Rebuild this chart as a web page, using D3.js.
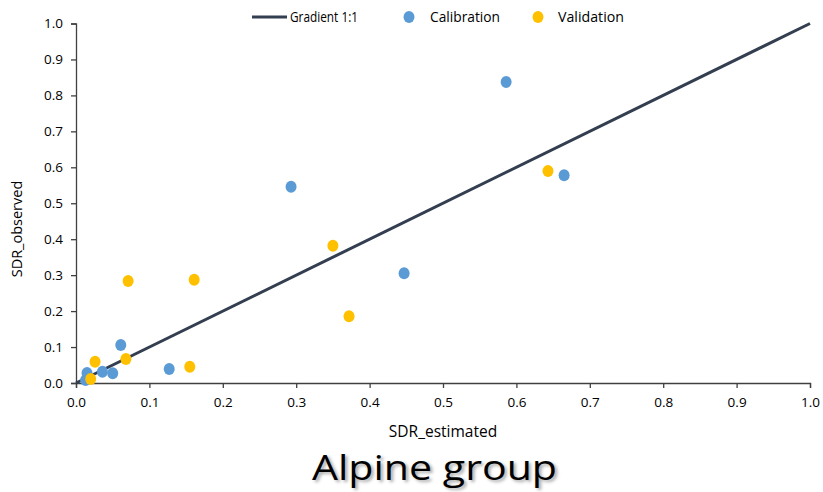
<!DOCTYPE html>
<html><head><meta charset="utf-8">
<script src="https://cdn.jsdelivr.net/npm/d3@7"></script>
<style>
body{margin:0;background:#fff;}
svg{display:block;}
text{font-family:"Open Sans",sans-serif;}
</style></head>
<body>
<script>
const xTicks = [0,0.1,0.2,0.3,0.4,0.5,0.6,0.7,0.8,0.9,1.0];
const yTicks = [0,0.1,0.2,0.3,0.4,0.5,0.6,0.7,0.8,0.9,1.0];
const calibrationX = [0.586,0.665,0.293,0.447,0.127,0.061,0.036,0.050,0.015,0.013];
const calibrationY = [0.837,0.578,0.546,0.305,0.039,0.106,0.031,0.027,0.028,0.008];
const validationX = [0.643,0.350,0.372,0.071,0.161,0.026,0.068,0.020,0.155];
const validationY = [0.590,0.382,0.186,0.284,0.287,0.059,0.067,0.011,0.045];
const gradientLine = [[0,0],[1,1]];
const seriesNames = ["Gradient 1:1","Calibration","Validation"];

const W=823,H=492;
const svg=d3.select("body").append("svg").attr("width",W).attr("height",H);
const x=d3.scaleLinear().domain([0,1]).range([76,810]);
const y=d3.scaleLinear().domain([0,1]).range([383,23.5]);

const axisColor="#404040";
const gx=svg.append("g").attr("transform",`translate(0,${y(0)})`)
  .call(d3.axisBottom(x).tickValues(xTicks).tickFormat(d3.format(".1f")).tickSize(5).tickPadding(9));
const gy=svg.append("g").attr("transform",`translate(${x(0)},0)`)
  .call(d3.axisLeft(y).tickValues(yTicks).tickFormat(d3.format(".1f")).tickSize(5).tickPadding(8));
[gx,gy].forEach(g=>{
  g.selectAll("path,line").attr("stroke",axisColor).attr("stroke-width",1.3);
  g.selectAll("text").attr("font-size",13.5).attr("fill","#000")
   .attr("font-family","'Open Sans',sans-serif");
});

// gradient line
svg.append("path").datum(gradientLine)
  .attr("d",d3.line().x(d=>x(d[0])).y(d=>y(d[1])))
  .attr("stroke","#333F50").attr("stroke-width",3).attr("fill","none");

const cal=calibrationX.map((v,i)=>[v,calibrationY[i]]);
const val=validationX.map((v,i)=>[v,validationY[i]]);
svg.append("g").selectAll("ellipse").data(cal).join("ellipse")
  .attr("cx",d=>x(d[0])).attr("cy",d=>y(d[1])).attr("rx",5.5).attr("ry",6)
  .attr("fill","#5B9BD5");
svg.append("g").selectAll("ellipse").data(val).join("ellipse")
  .attr("cx",d=>x(d[0])).attr("cy",d=>y(d[1])).attr("rx",5.5).attr("ry",6)
  .attr("fill","#FFC000");

// legend
const lg=svg.append("g");
lg.append("line").attr("x1",252).attr("x2",287).attr("y1",17).attr("y2",17)
  .attr("stroke","#333F50").attr("stroke-width",3);
lg.append("text").attr("x",290).attr("y",22).attr("font-size",14.5).attr("textLength",68).attr("lengthAdjust","spacingAndGlyphs").text(seriesNames[0]);
lg.append("ellipse").attr("cx",409).attr("cy",17).attr("rx",5.5).attr("ry",6).attr("fill","#5B9BD5");
lg.append("text").attr("x",430).attr("y",22).attr("font-size",14.5).attr("textLength",70).attr("lengthAdjust","spacingAndGlyphs").text(seriesNames[1]);
lg.append("ellipse").attr("cx",538).attr("cy",17).attr("rx",5.5).attr("ry",6).attr("fill","#FFC000");
lg.append("text").attr("x",558).attr("y",22).attr("font-size",14.5).attr("textLength",66).attr("lengthAdjust","spacingAndGlyphs").text(seriesNames[2]);

// axis titles
svg.append("text").attr("x",443).attr("y",437).attr("text-anchor","middle")
  .attr("font-size",15.5).text("SDR_estimated");
svg.append("text").attr("transform","translate(22,229) rotate(-90)").attr("text-anchor","middle")
  .attr("font-size",14.5).text("SDR_observed");

// title
svg.append("text").attr("x",312).attr("y",480)
  .attr("font-size",34).attr("fill","#000")
  .attr("textLength",245).attr("lengthAdjust","spacingAndGlyphs")
  .style("text-shadow","2px 2px 3px rgba(0,0,0,0.35)")
  .text("Alpine group");
</script>
</body></html>
